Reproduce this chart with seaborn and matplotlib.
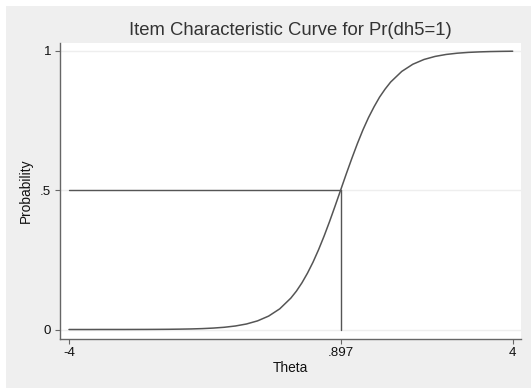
import matplotlib
matplotlib.use("Agg")
import matplotlib.pyplot as plt
import seaborn as sns
import pandas as pd
from matplotlib.patches import Rectangle

# Values
theta = [-4.0, -3.8, -3.6, -3.4, -3.2, -3.0, -2.8, -2.6, -2.4, -2.2, -2.0,
         -1.8, -1.6, -1.4, -1.2, -1.0, -0.8, -0.6, -0.4, -0.2, 0.0,
         0.1, 0.2, 0.3, 0.4, 0.5, 0.6, 0.7, 0.8, 0.897, 1.0, 1.1, 1.2, 1.3, 1.4, 1.5, 1.6, 1.7, 1.8, 2.0,
         2.2, 2.4, 2.6, 2.8, 3.0, 3.2, 3.4, 3.6, 3.8, 4.0]
prob = [0.0000, 0.0000, 0.0000, 0.0001, 0.0001, 0.0001, 0.0002, 0.0003, 0.0005, 0.0008, 0.0013,
        0.0020, 0.0032, 0.0051, 0.0080, 0.0126, 0.0198, 0.0310, 0.0482, 0.0742, 0.1127,
        0.1377, 0.1675, 0.2023, 0.2418, 0.2865, 0.3356, 0.3886, 0.4445, 0.5000, 0.5590,
        0.6144, 0.6675, 0.7167, 0.7608, 0.7995, 0.8344, 0.8633, 0.8886, 0.9267,
        0.9525, 0.9695, 0.9805, 0.9876, 0.9921, 0.9950, 0.9968, 0.9980, 0.9987, 0.9992]
difficulty = 0.897
x_ticks = [-4, 0.897, 4]
x_ticklabels = ["-4", ".897", "4"]
y_ticks = [0, 0.5, 1]
y_ticklabels = ["0", ".5", "1"]
title = "Item Characteristic Curve for Pr(dh5=1)"

sns.set_theme(style="white")
plt.rcParams["font.family"] = ["Liberation Sans", "DejaVu Sans"]

W, H = 531, 388
fig = plt.figure(figsize=(W / 100, H / 100), dpi=100)
fig.patch.set_facecolor("white")
fig.patches.append(Rectangle((6 / W, 0), 1 - 6 / W, 1 - 6 / H, transform=fig.transFigure,
                             facecolor="#efefef", edgecolor="none", zorder=-10))

ax = fig.add_axes([60 / W, 1 - 338.5 / H, (521 - 60) / W, (338.5 - 42.7) / H])
ax.set_facecolor("white")

df = pd.DataFrame({"Theta": theta, "Probability": prob})
sns.lineplot(data=df, x="Theta", y="Probability", ax=ax, color="#555555", linewidth=1.1)

# reference lines
ax.plot([theta[0], difficulty], [0.5, 0.5], color="#555555", linewidth=1.0)
ax.plot([difficulty, difficulty], [0, 0.5], color="#555555", linewidth=1.0)

ax.set_xlim(-4.162, 4.150)
ax.set_ylim(-0.0323, 1.0298)
ax.set_xticks(x_ticks)
ax.set_xticklabels(x_ticklabels)
ax.set_yticks(y_ticks)
ax.set_yticklabels(y_ticklabels)
for yv in y_ticks:
    ax.axhline(yv, color="#eeeeee", linewidth=1.0, zorder=0)

for s in ["top", "right"]:
    ax.spines[s].set_visible(False)
for s in ["left", "bottom"]:
    ax.spines[s].set_color("#666666")
    ax.spines[s].set_linewidth(1.0)
ax.tick_params(axis="both", direction="out", length=3.8, width=0.8, color="#666666",
               labelsize=9.6, labelcolor="#111111", pad=2.5, left=True, bottom=True)

ax.set_xlabel("Theta", fontsize=9.9, color="#111111", labelpad=1.0)
ax.set_ylabel("Probability", fontsize=9.9, color="#111111", labelpad=5)
ax.set_title(title, fontsize=13.3, color="#333333", pad=5.5)

fig.savefig("out.png", dpi=100, facecolor=fig.get_facecolor())
